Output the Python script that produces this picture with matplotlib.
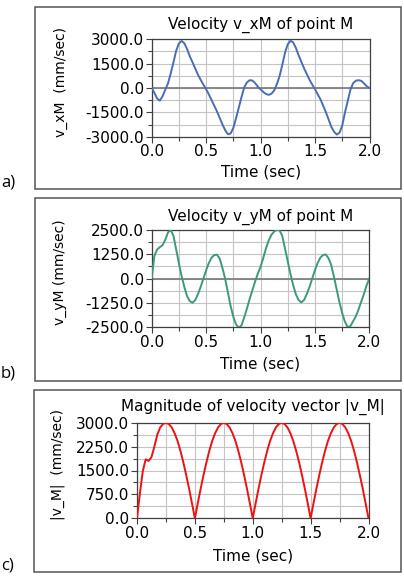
import numpy as np
import matplotlib
matplotlib.use('Agg')
import matplotlib.pyplot as plt
from matplotlib.patches import Rectangle
from matplotlib.ticker import MultipleLocator, FixedLocator

# Time samples (sec)
t = np.round(np.arange(81) * 0.025, 3)

# v_xM (mm/sec)
v_x = [0, -300, -650, -780, -500, -100, 290, 900, 1580, 2300,
       2750, 2900, 2750, 2400, 1950, 1580, 1200, 820, 500, 200,
       -80, -400, -750, -1100, -1450, -1850, -2250, -2600, -2850, -2800,
       -2450, -1850, -1200, -550, 50, 350, 480, 460, 300, 80,
       -80, -250, -370, -420, -350, -150, 250, 750, 1450, 2200,
       2700, 2920, 2800, 2450, 2000, 1600, 1200, 850, 500, 200,
       -80, -400, -700, -1100, -1500, -1950, -2400, -2700, -2870, -2750,
       -2300, -1500, -800, -100, 300, 450, 480, 440, 280, 100,
       0]

# v_yM (mm/sec)
v_y = [0, 1180, 1500, 1620, 1720, 2000, 2380, 2500, 2200, 1500,
       780, 130, -430, -900, -1150, -1240, -1100, -800, -420, 0,
       430, 800, 1080, 1210, 1230, 1030, 550, 0, -700, -1400,
       -1950, -2350, -2520, -2400, -2000, -1550, -1050, -600, -150, 250,
       600, 1050, 1550, 1950, 2250, 2420, 2500, 2480, 2200, 1550,
       900, 250, -330, -800, -1100, -1220, -1100, -800, -430, 0,
       430, 800, 1080, 1220, 1240, 1050, 700, 100, -550, -1200,
       -1750, -2200, -2480, -2450, -2200, -1950, -1600, -1200, -800, -350,
       0]

# |v_M| (mm/sec)
v_mag = [0, 780, 1480, 1850, 1800, 1920, 2250, 2620, 2850, 2960,
         3000, 2960, 2850, 2670, 2430, 2120, 1760, 1360, 930, 470,
         0, 470, 930, 1360, 1760, 2120, 2430, 2670, 2850, 2960,
         3000, 2960, 2850, 2670, 2430, 2120, 1760, 1360, 930, 470,
         0, 470, 930, 1360, 1760, 2120, 2430, 2670, 2850, 2960,
         3000, 2960, 2850, 2670, 2430, 2120, 1760, 1360, 930, 470,
         0, 470, 930, 1360, 1760, 2120, 2430, 2670, 2850, 2960,
         3000, 2960, 2850, 2670, 2430, 2120, 1760, 1360, 930, 470,
         0]

W, H = 404, 576
fig = plt.figure(figsize=(W / 100, H / 100), dpi=100)
plt.rcParams['font.family'] = 'DejaVu Sans'


def px(x0, y0, x1, y1):
    return [x0 / W, 1 - y1 / H, (x1 - x0) / W, (y1 - y0) / H]


panels = [
    dict(box=(35, 7, 401, 189), ax=(151.7, 39.3, 369.5, 136.7), y=v_x, color='#4a6db5',
         ylim=(-3000, 3000), ystep=1500, title='Velocity v_xM of point M', title_y=25,
         ylabel='v_xM  (mm/sec)', ylabel_x=61, xlabel_y=172, tag='a)', tag_y=183, zero=True),
    dict(box=(35, 198, 401, 381), ax=(151.7, 230, 369.3, 327.3), y=v_y, color='#3b9a7c',
         ylim=(-2500, 2500), ystep=1250, title='Velocity v_yM of point M', title_y=217,
         ylabel='v_yM (mm/sec)', ylabel_x=60, xlabel_y=364, tag='b)', tag_y=374, zero=True),
    dict(box=(34, 390, 401, 572), ax=(137, 422.7, 368.5, 518.3), y=v_mag, color='#ee1111',
         ylim=(0, 3000), ystep=750, title='Magnitude of velocity vector |v_M|', title_y=407,
         ylabel='|v_M|  (mm/sec)', ylabel_x=58, xlabel_y=556, tag='c)', tag_y=566, zero=False),
]

for p in panels:
    bx0, by0, bx1, by1 = p['box']
    fig.patches.append(Rectangle((bx0 / W, 1 - by1 / H), (bx1 - bx0) / W, (by1 - by0) / H,
                                 transform=fig.transFigure, fill=False,
                                 edgecolor='#555555', linewidth=1.1))

    ax = fig.add_axes(px(*p['ax']))
    ax.set_xlim(0, 2)
    ax.set_ylim(*p['ylim'])
    ax.xaxis.set_major_locator(MultipleLocator(0.5))
    ax.xaxis.set_minor_locator(MultipleLocator(0.25))
    ax.yaxis.set_major_locator(MultipleLocator(p['ystep']))
    ax.yaxis.set_minor_locator(MultipleLocator(p['ystep'] / 2))
    ax.xaxis.set_major_formatter(lambda v, pos: f'{v:.1f}')
    ax.yaxis.set_major_formatter(lambda v, pos: f'{v:.1f}')
    ax.grid(True, which='both', color='#c4c4c4', linewidth=0.8)
    ax.set_axisbelow(True)
    if p['zero']:
        ax.axhline(0, color='#808080', linewidth=1.3, zorder=1.5)
    ax.plot(t, p['y'], color=p['color'], linewidth=1.4, zorder=3)

    ax.tick_params(axis='both', which='major', labelsize=11, length=4, width=0.8,
                   color='#404040', pad=1.5)
    ax.tick_params(axis='both', which='minor', length=3, width=0.8, color='#404040')
    for s in ax.spines.values():
        s.set_color('#404040')
        s.set_linewidth(0.9)

    x0, y0, x1, y1 = p['ax']
    cx = (x0 + x1) / 2
    fig.text(cx / W, 1 - p['title_y'] / H, p['title'], ha='center', va='center', fontsize=11)
    fig.text(cx / W, 1 - p['xlabel_y'] / H, 'Time (sec)', ha='center', va='center', fontsize=11)
    fig.text(p['ylabel_x'] / W, 1 - ((y0 + y1) / 2 - 6) / H, p['ylabel'], ha='center',
             va='center', rotation=90, fontsize=10)
    fig.text(1 / W, 1 - p['tag_y'] / H, p['tag'], ha='left', va='center', fontsize=12,
             family='Open Sans')

fig.savefig('out.png', dpi=100)
